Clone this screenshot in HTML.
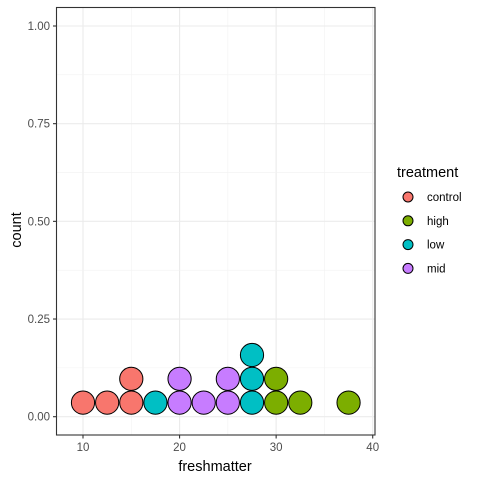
<!DOCTYPE html>
<html><head><style>body{margin:0;background:#fff}svg{display:block;font-family:"Liberation Sans",Arial,sans-serif}</style></head>
<body>
<svg id="c" width="480" height="480">
<rect x="0" y="0" width="480" height="480" fill="#fff"/>
<g id="grid"></g>
<g id="dots"></g>
<rect x="56.5" y="7.5" width="318.5" height="427.5" fill="none" stroke="#333" stroke-width="1.1"/>
<g id="axes"></g>
<text x="215" y="471" text-anchor="middle" font-size="14.5" fill="#000">freshmatter</text>
<text transform="translate(21,230) rotate(-90)" text-anchor="middle" font-size="14.5" fill="#000">count</text>
<g>
<text x="397" y="177" font-size="14.5" fill="#000">treatment</text>
<g id="leg"></g>
</g>
</svg>
<script>
const xs=[10,12.5,15,17.5,20,22.5,25,27.5,30,32.5,37.5];
const groups=["control","control","control","low","mid","mid","mid","low","high","high","high"];
const counts=[1,1,2,1,2,1,2,3,2,1,1];
const xTicks=[10,20,30,40];
const yTicks=[0,0.25,0.5,0.75,1];
const yLabels=["0.00","0.25","0.50","0.75","1.00"];
const legendItems=["control","high","low","mid"];
const colors={control:"#F8766D",high:"#7CAE00",low:"#00BFC4",mid:"#C77CFF"};
const NS="http://www.w3.org/2000/svg";
const X=v=>83+(v-10)*9.657;
const Y=v=>416.7-v*390.7;
function mk(t,a,p){const e=document.createElementNS(NS,t);for(const k in a)e.setAttribute(k,a[k]);p.appendChild(e);return e;}
const grid=document.getElementById('grid'),axes=document.getElementById('axes'),dots=document.getElementById('dots'),leg=document.getElementById('leg');
for(let i=0;i<xTicks.length;i++){const v=xTicks[i];
 const g=mk('line',{x1:X(v),x2:X(v),y1:7.5,y2:435,stroke:'#ebebeb','stroke-width':1.1},grid);
 
 if(i<xTicks.length-1){const m=mk('line',{x1:X(v+5),x2:X(v+5),y1:7.5,y2:435,stroke:'#f2f2f2','stroke-width':0.6},grid);
 }
 const t=mk('line',{x1:X(v),x2:X(v),y1:435,y2:438.5,stroke:'#333','stroke-width':1.1},axes);
 
 const l=mk('text',{x:X(v),y:451,'text-anchor':'middle','font-size':11.5,fill:'#4d4d4d'},axes);l.textContent=v;
 }
for(let i=0;i<yTicks.length;i++){const v=yTicks[i];
 const g=mk('line',{x1:56.5,x2:375,y1:Y(v),y2:Y(v),stroke:'#ebebeb','stroke-width':1.1},grid);
 
 if(i<yTicks.length-1){const m=mk('line',{x1:56.5,x2:375,y1:Y(v+0.125),y2:Y(v+0.125),stroke:'#f2f2f2','stroke-width':0.6},grid);
 }
 const t=mk('line',{x1:53,x2:56.5,y1:Y(v),y2:Y(v),stroke:'#333','stroke-width':1.1},axes);
 
 const l=mk('text',{x:50,y:Y(v)+4,'text-anchor':'end','font-size':11.5,fill:'#4d4d4d'},axes);l.textContent=yLabels[i];
 }
for(let i=0;i<xs.length;i++){for(let k=0;k<counts[i];k++){
 const c=mk('circle',{cx:X(xs[i]),cy:Y(0)-14.1-k*23.8,r:11.6,fill:colors[groups[i]],stroke:'#000','stroke-width':1},dots);
 }}
legendItems.forEach((n,i)=>{const y=197+i*23.8;
 const c=mk('circle',{cx:408,cy:y,r:5,fill:colors[n],stroke:'#000','stroke-width':1},leg);
 
 const t=mk('text',{x:427,y:y+4,'font-size':11.5,fill:'#000'},leg);t.textContent=n;
 });
</script>
</body></html>
